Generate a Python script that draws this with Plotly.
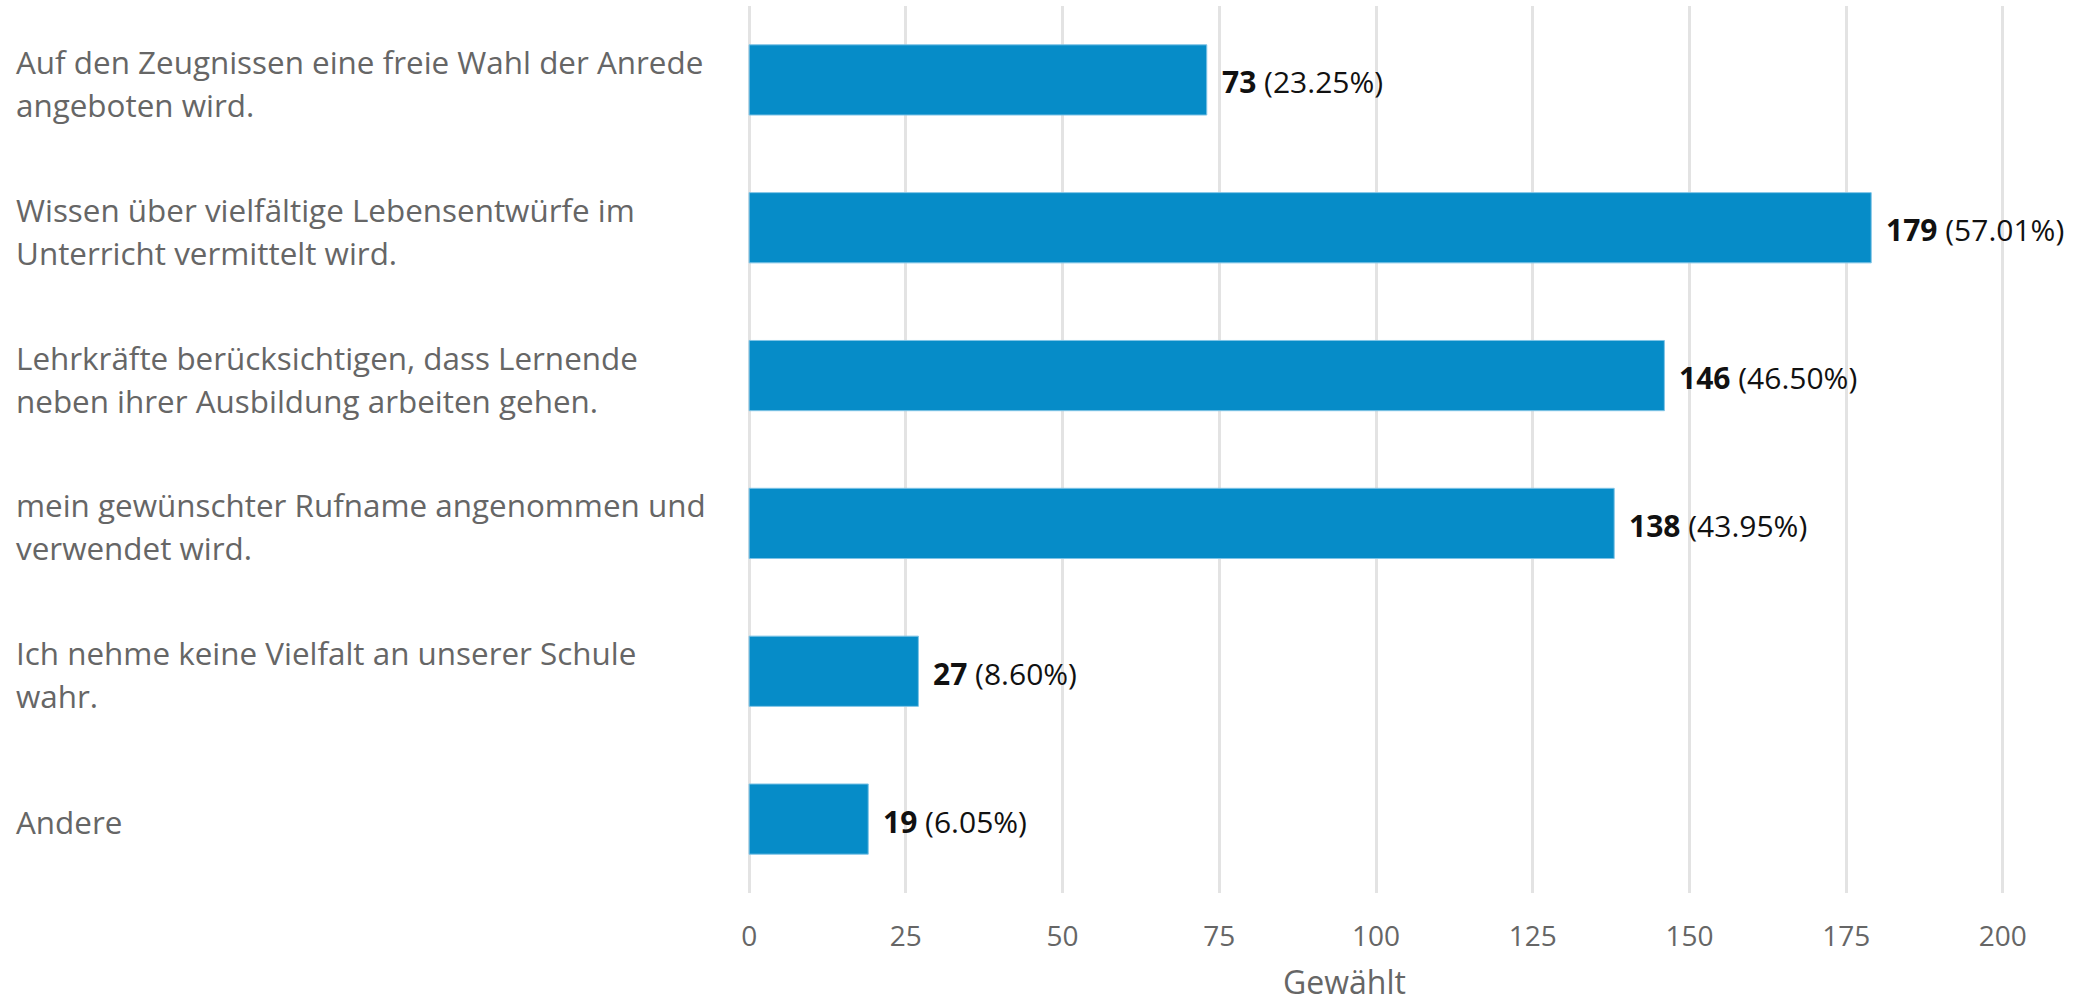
import plotly.graph_objects as go

categories = [
    ["Auf den Zeugnissen eine freie Wahl der Anrede", "angeboten wird."],
    ["Wissen über vielfältige Lebensentwürfe im", "Unterricht vermittelt wird."],
    ["Lehrkräfte berücksichtigen, dass Lernende", "neben ihrer Ausbildung arbeiten gehen."],
    ["mein gewünschter Rufname angenommen und", "verwendet wird."],
    ["Ich nehme keine Vielfalt an unserer Schule", "wahr."],
    ["Andere"],
]
values = [73, 179, 146, 138, 27, 19]
percents = ["23.25%", "57.01%", "46.50%", "43.95%", "8.60%", "6.05%"]
tick_values = [0, 25, 50, 75, 100, 125, 150, 175, 200]
axis_title = "Gewählt"

cat_keys = [" ".join(c) for c in categories]

FONT = "Open Sans"
W, H = 2077, 1006
ML, MR, MT, MB = 746, 71, 6, 113
PW = W - ML - MR

fig = go.Figure()
fig.add_trace(go.Bar(
    y=cat_keys, x=values, orientation="h",
    marker=dict(color="#068CC8", line=dict(color="#7FC4E6", width=1)),
    width=0.475, hoverinfo="x+y",
))

annotations = []
for key, lines in zip(cat_keys, categories):
    n = len(lines)
    for i, line in enumerate(lines):
        offset = (i - (n - 1) / 2) * 43
        annotations.append(dict(
            xref="paper", yref="y", x=(14 - ML) / PW, y=key,
            text=line, showarrow=False, xanchor="left", yanchor="middle",
            yshift=-offset + (-3 if n > 1 else -2),
            font=dict(family=FONT, size=31.4, color="#666666"),
        ))
for key, v, p in zip(cat_keys, values, percents):
    annotations.append(dict(
        xref="x", yref="y", x=v, y=key, text=f"<b>{v}</b> ({p})",
        showarrow=False, xanchor="left", yanchor="middle", xshift=13, yshift=-2,
        font=dict(family=FONT, size=30, color="#111111"),
    ))
annotations.append(dict(
    xref="paper", yref="paper", x=(1344 - ML) / PW, y=0,
    yshift=-112, text=axis_title, showarrow=False, xanchor="center", yanchor="bottom",
    font=dict(family=FONT, size=32, color="#666666"),
))

fig.update_layout(
    width=W, height=H,
    margin=dict(l=ML, r=MR, t=MT, b=MB),
    paper_bgcolor="white", plot_bgcolor="white",
    showlegend=False,
    font=dict(family=FONT),
    annotations=annotations,
    xaxis=dict(
        range=[-0.5, 200.5], tickvals=tick_values, showgrid=True,
        gridcolor="#e3e3e3", gridwidth=3, zeroline=False, showline=False,
        ticks="", ticklabelstandoff=24,
        tickfont=dict(family=FONT, size=28, color="#666666"),
    ),
    yaxis=dict(
        categoryorder="array", categoryarray=cat_keys, autorange="reversed",
        showticklabels=False, showgrid=False, zeroline=False, showline=False,
    ),
)

fig.write_html(
    "out.html",
    config={"displayModeBar": False},
    post_script="document.body.style.margin='0';document.body.style.overflow='hidden';",
)
